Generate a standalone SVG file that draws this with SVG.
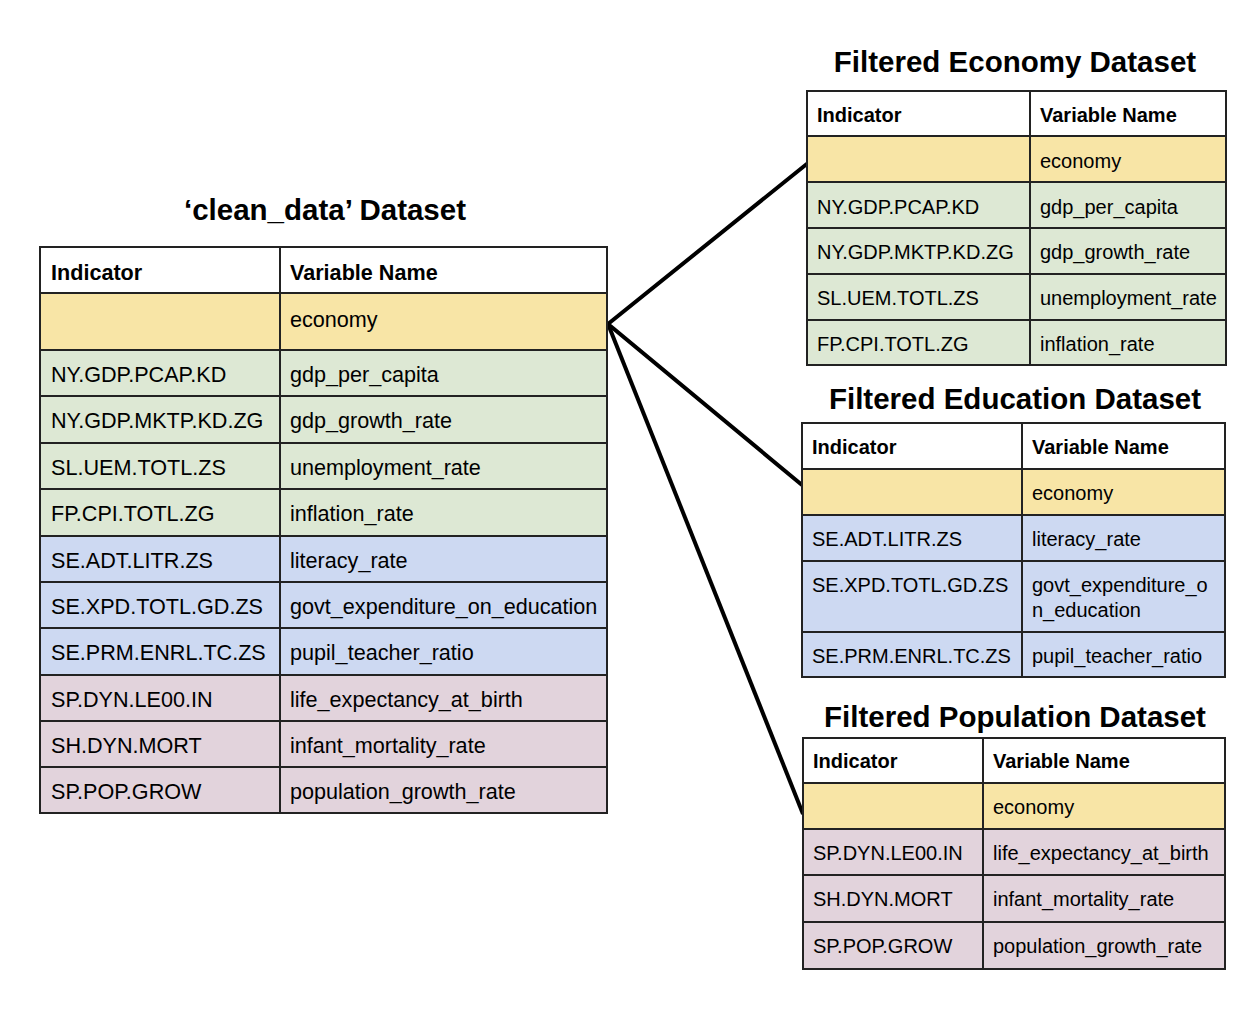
<svg xmlns="http://www.w3.org/2000/svg" width="1258" height="1016" viewBox="0 0 1258 1016">
<style>
.c{stroke:#222;stroke-width:2}
.w{fill:#ffffff}
.y{fill:#f8e5a6}
.g{fill:#dde8d4}
.b{fill:#cdd9f2}
.p{fill:#e2d3dc}
text{font-family:"Liberation Sans",Arial,sans-serif;fill:#000}
.t{font-size:29.5px;font-weight:bold;text-anchor:middle}
.h{font-weight:bold}
.m{font-size:21.6px}
.s{font-size:20px}
.conn{fill:none;stroke:#000;stroke-width:4;stroke-linejoin:miter}
</style>
<rect width="1258" height="1016" fill="#ffffff"/>

<g id="connectors">
<path class="conn" d="M808,163 L608,324 L802,485"/>
<path class="conn" d="M608,324 L803,814"/>
</g>

<g id="clean_data">
<text class="t" x="325" y="220">‘clean_data’ Dataset</text>
<rect class="c w" x="40" y="247" width="240" height="46"/><rect class="c w" x="280" y="247" width="327" height="46"/>
<rect class="c y" x="40" y="293" width="240" height="57"/><rect class="c y" x="280" y="293" width="327" height="57"/>
<rect class="c g" x="40" y="350" width="240" height="46"/><rect class="c g" x="280" y="350" width="327" height="46"/>
<rect class="c g" x="40" y="396" width="240" height="47"/><rect class="c g" x="280" y="396" width="327" height="47"/>
<rect class="c g" x="40" y="443" width="240" height="46"/><rect class="c g" x="280" y="443" width="327" height="46"/>
<rect class="c g" x="40" y="489" width="240" height="47"/><rect class="c g" x="280" y="489" width="327" height="47"/>
<rect class="c b" x="40" y="536" width="240" height="46"/><rect class="c b" x="280" y="536" width="327" height="46"/>
<rect class="c b" x="40" y="582" width="240" height="46"/><rect class="c b" x="280" y="582" width="327" height="46"/>
<rect class="c b" x="40" y="628" width="240" height="47"/><rect class="c b" x="280" y="628" width="327" height="47"/>
<rect class="c p" x="40" y="675" width="240" height="46"/><rect class="c p" x="280" y="675" width="327" height="46"/>
<rect class="c p" x="40" y="721" width="240" height="46"/><rect class="c p" x="280" y="721" width="327" height="46"/>
<rect class="c p" x="40" y="767" width="240" height="46"/><rect class="c p" x="280" y="767" width="327" height="46"/>
<text class="m h" x="51" y="280">Indicator</text><text class="m h" x="290" y="280">Variable Name</text>
<text class="m" x="290" y="327">economy</text>
<text class="m" x="51" y="382">NY.GDP.PCAP.KD</text><text class="m" x="290" y="382">gdp_per_capita</text>
<text class="m" x="51" y="428">NY.GDP.MKTP.KD.ZG</text><text class="m" x="290" y="428">gdp_growth_rate</text>
<text class="m" x="51" y="475">SL.UEM.TOTL.ZS</text><text class="m" x="290" y="475">unemployment_rate</text>
<text class="m" x="51" y="521">FP.CPI.TOTL.ZG</text><text class="m" x="290" y="521">inflation_rate</text>
<text class="m" x="51" y="568">SE.ADT.LITR.ZS</text><text class="m" x="290" y="568">literacy_rate</text>
<text class="m" x="51" y="614">SE.XPD.TOTL.GD.ZS</text><text class="m" x="290" y="614">govt_expenditure_on_education</text>
<text class="m" x="51" y="660">SE.PRM.ENRL.TC.ZS</text><text class="m" x="290" y="660">pupil_teacher_ratio</text>
<text class="m" x="51" y="707">SP.DYN.LE00.IN</text><text class="m" x="290" y="707">life_expectancy_at_birth</text>
<text class="m" x="51" y="753">SH.DYN.MORT</text><text class="m" x="290" y="753">infant_mortality_rate</text>
<text class="m" x="51" y="799">SP.POP.GROW</text><text class="m" x="290" y="799">population_growth_rate</text>
</g>

<g id="economy_dataset">
<text class="t" x="1015" y="72">Filtered Economy Dataset</text>
<rect class="c w" x="807" y="91" width="223" height="45"/><rect class="c w" x="1030" y="91" width="196" height="45"/>
<rect class="c y" x="807" y="136" width="223" height="46"/><rect class="c y" x="1030" y="136" width="196" height="46"/>
<rect class="c g" x="807" y="182" width="223" height="46"/><rect class="c g" x="1030" y="182" width="196" height="46"/>
<rect class="c g" x="807" y="228" width="223" height="46"/><rect class="c g" x="1030" y="228" width="196" height="46"/>
<rect class="c g" x="807" y="274" width="223" height="46"/><rect class="c g" x="1030" y="274" width="196" height="46"/>
<rect class="c g" x="807" y="320" width="223" height="45"/><rect class="c g" x="1030" y="320" width="196" height="45"/>
<text class="s h" x="817" y="122">Indicator</text><text class="s h" x="1040" y="122">Variable Name</text>
<text class="s" x="1040" y="168">economy</text>
<text class="s" x="817" y="214">NY.GDP.PCAP.KD</text><text class="s" x="1040" y="214">gdp_per_capita</text>
<text class="s" x="817" y="259">NY.GDP.MKTP.KD.ZG</text><text class="s" x="1040" y="259">gdp_growth_rate</text>
<text class="s" x="817" y="305">SL.UEM.TOTL.ZS</text><text class="s" x="1040" y="305">unemployment_rate</text>
<text class="s" x="817" y="351">FP.CPI.TOTL.ZG</text><text class="s" x="1040" y="351">inflation_rate</text>
</g>

<g id="education_dataset">
<text class="t" x="1015" y="409">Filtered Education Dataset</text>
<rect class="c w" x="802" y="423" width="220" height="46"/><rect class="c w" x="1022" y="423" width="203" height="46"/>
<rect class="c y" x="802" y="469" width="220" height="46"/><rect class="c y" x="1022" y="469" width="203" height="46"/>
<rect class="c b" x="802" y="515" width="220" height="46"/><rect class="c b" x="1022" y="515" width="203" height="46"/>
<rect class="c b" x="802" y="561" width="220" height="71"/><rect class="c b" x="1022" y="561" width="203" height="71"/>
<rect class="c b" x="802" y="632" width="220" height="45"/><rect class="c b" x="1022" y="632" width="203" height="45"/>
<text class="s h" x="812" y="454">Indicator</text><text class="s h" x="1032" y="454">Variable Name</text>
<text class="s" x="1032" y="500">economy</text>
<text class="s" x="812" y="546">SE.ADT.LITR.ZS</text><text class="s" x="1032" y="546">literacy_rate</text>
<text class="s" x="812" y="592">SE.XPD.TOTL.GD.ZS</text><text class="s" x="1032" y="592">govt_expenditure_o</text>
<text class="s" x="1032" y="617">n_education</text>
<text class="s" x="812" y="663">SE.PRM.ENRL.TC.ZS</text><text class="s" x="1032" y="663">pupil_teacher_ratio</text>
</g>

<g id="population_dataset">
<text class="t" x="1015" y="727">Filtered Population Dataset</text>
<rect class="c w" x="803" y="738" width="180" height="45"/><rect class="c w" x="983" y="738" width="242" height="45"/>
<rect class="c y" x="803" y="783" width="180" height="46"/><rect class="c y" x="983" y="783" width="242" height="46"/>
<rect class="c p" x="803" y="829" width="180" height="46"/><rect class="c p" x="983" y="829" width="242" height="46"/>
<rect class="c p" x="803" y="875" width="180" height="47"/><rect class="c p" x="983" y="875" width="242" height="47"/>
<rect class="c p" x="803" y="922" width="180" height="47"/><rect class="c p" x="983" y="922" width="242" height="47"/>
<text class="s h" x="813" y="768">Indicator</text><text class="s h" x="993" y="768">Variable Name</text>
<text class="s" x="993" y="814">economy</text>
<text class="s" x="813" y="860">SP.DYN.LE00.IN</text><text class="s" x="993" y="860">life_expectancy_at_birth</text>
<text class="s" x="813" y="906">SH.DYN.MORT</text><text class="s" x="993" y="906">infant_mortality_rate</text>
<text class="s" x="813" y="953">SP.POP.GROW</text><text class="s" x="993" y="953">population_growth_rate</text>
</g>
</svg>
